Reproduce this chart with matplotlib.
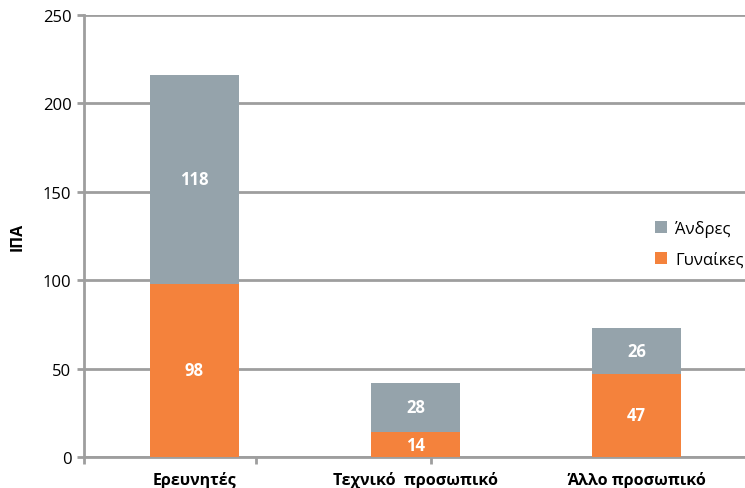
import matplotlib.pyplot as plt
import numpy as np

categories = ["Ερευνητές", "Τεχνικό  προσωπικό", "Άλλο προσωπικό"]
women = [98, 14, 47]
men = [118, 28, 26]

c_women = "#f4823c"
c_men = "#95a3ab"
grid_c = "#9e9e9e"

plt.rcParams['font.family'] = ['Open Sans', 'DejaVu Sans']

fig = plt.figure(figsize=(7.45, 4.89), dpi=100)
ax = fig.add_axes([84 / 745, 31 / 489, 1 - 84 / 745, 442 / 489])

x = np.arange(len(categories))
w = 0.40
b1 = ax.bar(x, women, w, color=c_women, label="Γυναίκες", zorder=3)
b2 = ax.bar(x, men, w, bottom=women, color=c_men, label="Άνδρες", zorder=3)

for rect, v in zip(b1, women):
    ax.text(rect.get_x() + rect.get_width() / 2, rect.get_y() + v / 2, str(v),
            ha="center", va="center", color="white", fontweight="bold", fontsize=12, zorder=4)
for rect, v, b in zip(b2, men, women):
    ax.text(rect.get_x() + rect.get_width() / 2, b + v / 2, str(v),
            ha="center", va="center", color="white", fontweight="bold", fontsize=12, zorder=4)

ax.set_ylim(0, 250)
ax.set_xlim(-0.5, 2.49)
ax.set_yticks(range(0, 251, 50))
ax.yaxis.grid(True, color=grid_c, linewidth=2, zorder=0)
ax.set_axisbelow(True)
for s in ["top", "right"]:
    ax.spines[s].set_visible(False)
for s in ["left", "bottom"]:
    ax.spines[s].set_color(grid_c)
    ax.spines[s].set_linewidth(2)

ax.set_xticks(x)
ax.set_xticklabels(categories, fontweight="bold", fontsize=11.5)
ax.tick_params(axis="x", length=0, pad=10)
ax.set_xticks([-0.5, 0.28, 1.07], minor=True)
ax.tick_params(axis="x", which="minor", length=5, width=2, color=grid_c, direction="out")
ax.tick_params(axis="y", length=5, width=2, color=grid_c, labelsize=12, pad=4)

ax.set_ylabel("ΙΠΑ", fontweight="bold", fontsize=11.5, labelpad=12)

handles, labels = ax.get_legend_handles_labels()
fig.legend(handles[::-1], labels[::-1], loc="upper left", bbox_to_anchor=(655 / 745, 1 - 221 / 489),
           frameon=False, fontsize=12, handlelength=0.7, handleheight=0.7,
           handletextpad=0.5, labelspacing=0.9, borderaxespad=0, borderpad=0)

fig.savefig("out.png", dpi=100)
